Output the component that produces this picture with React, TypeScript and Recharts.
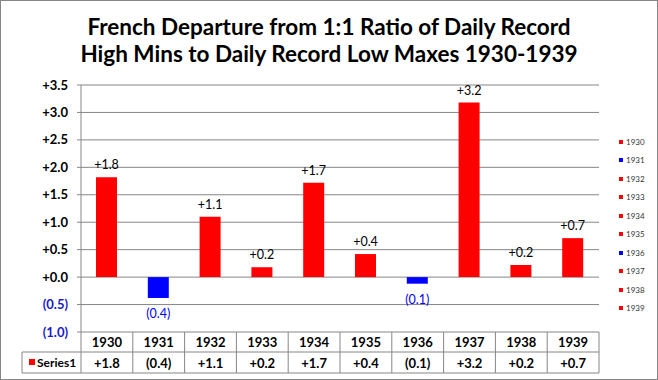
import { BarChart, Bar, XAxis, YAxis, CartesianGrid, Cell, LabelList } from "recharts";

const YEARS = ["1930", "1931", "1932", "1933", "1934", "1935", "1936", "1937", "1938", "1939"];
const VALUES = [1.82, -0.38, 1.1, 0.18, 1.72, 0.42, -0.12, 3.18, 0.22, 0.71];
const Y_TICKS = [-1, -0.5, 0, 0.5, 1, 1.5, 2, 2.5, 3, 3.5];
const SERIES_NAME = "Series1";

const RED = "#ff0000";
const BLUE = "#0000ff";
const LABEL_BLUE = "#1a1acc";
const GRID = "#868686";
const FONT = "Lato, 'Open Sans', sans-serif";

// layout
const W = 658;
const H = 380;
const PLOT_LEFT = 81;
const PLOT_RIGHT = 599;
const PLOT_TOP = 85;
const PLOT_BOTTOM = 332;
const ROW_MID = 352;
const TABLE_BOTTOM = 373;
const CELL = (PLOT_RIGHT - PLOT_LEFT) / YEARS.length;

const data = YEARS.map((year, i) => ({ year, value: VALUES[i] }));

const fmt = (v: number): string =>
    v < 0 ? `(${Math.abs(v).toFixed(1)})` : `+${v.toFixed(1)}`;

const barColor = (v: number) => (v < 0 ? BLUE : RED);

const YTick = (props: any) => {
    const { x, y, payload } = props;
    const v = payload.value as number;
    return (
        <text
            x={x}
            y={y}
            dy={4.5}
            textAnchor="end"
            fontFamily={FONT}
            fontWeight={700}
            fontSize={13}
            fill={v < 0 ? LABEL_BLUE : "#000"}
        >
            {fmt(v)}
        </text>
    );
};

const TableTick = (props: any) => {
    const { x, payload } = props;
    const i = payload.index as number;
    const left = x - CELL / 2;
    const right = x + CELL / 2;
    return (
        <g>
            {i === 0 && (
                <g>
                    <line x1={left} x2={left} y1={PLOT_BOTTOM} y2={TABLE_BOTTOM} stroke={GRID} />
                    <line x1={22} x2={left} y1={ROW_MID} y2={ROW_MID} stroke={GRID} />
                    <line x1={22} x2={left} y1={TABLE_BOTTOM} y2={TABLE_BOTTOM} stroke={GRID} />
                    <line x1={22} x2={22} y1={ROW_MID} y2={TABLE_BOTTOM} stroke={GRID} />
                    <rect x={29} y={359} width={6} height={6} fill={RED} />
                    <text x={37} y={367} fontFamily={FONT} fontWeight={700} fontSize={12} fill="#000">
                        {SERIES_NAME}
                    </text>
                </g>
            )}
            <line x1={right} x2={right} y1={PLOT_BOTTOM} y2={TABLE_BOTTOM} stroke={GRID} />
            <line x1={left} x2={right} y1={ROW_MID} y2={ROW_MID} stroke={GRID} />
            <line x1={left} x2={right} y1={TABLE_BOTTOM} y2={TABLE_BOTTOM} stroke={GRID} />
            <text x={x} y={346.5} textAnchor="middle" fontFamily={FONT} fontWeight={700} fontSize={13} fill="#000">
                {payload.value}
            </text>
            <text x={x} y={367.5} textAnchor="middle" fontFamily={FONT} fontWeight={700} fontSize={13} fill="#000">
                {fmt(VALUES[i])}
            </text>
        </g>
    );
};

const BarValueLabel = (props: any) => {
    const { x, y, width, height, value } = props;
    const top = Math.min(y, y + height);
    const bottom = Math.max(y, y + height);
    const neg = value < 0;
    return (
        <text
            x={x + width / 2}
            y={neg ? bottom + 20 : top - 8}
            textAnchor="middle"
            fontFamily={FONT}
            fontSize={12.5}
            fill={neg ? BLUE : "#000"}
        >
            {fmt(value)}
        </text>
    );
};

export default function App() {
    return (
        <div style={{ position: "absolute", left: 0, top: 0, width: W, height: H, background: "#fff" }}>
            <div
                style={{
                    position: "absolute",
                    left: 0,
                    top: 0,
                    width: W,
                    textAlign: "center",
                    fontFamily: FONT,
                    fontWeight: 700,
                    fontSize: 22.5,
                    lineHeight: "27px",
                    paddingTop: 13,
                    color: "#000",
                }}
            >
                French Departure from 1:1 Ratio of Daily Record
                <br />
                High Mins to Daily Record Low Maxes 1930-1939
            </div>
            <BarChart
                width={W}
                height={H}
                data={data}
                margin={{ top: PLOT_TOP, right: W - PLOT_RIGHT, bottom: 7, left: 0 }}
                style={{ position: "absolute", left: 0, top: 0 }}
            >
                <CartesianGrid vertical={false} stroke={GRID} strokeDasharray="" />
                <XAxis
                    dataKey="year"
                    interval={0}
                    height={H - PLOT_BOTTOM - 7}
                    tickLine={false}
                    axisLine={false}
                    tick={<TableTick />}
                />
                <YAxis
                    width={PLOT_LEFT}
                    domain={[-1, 3.5]}
                    ticks={Y_TICKS}
                    interval={0}
                    tickSize={4}
                    tickMargin={9}
                    stroke={GRID}
                    tick={<YTick />}
                />
                <Bar dataKey="value" barSize={21} isAnimationActive={false}>
                    {data.map((d) => (
                        <Cell key={d.year} fill={barColor(d.value)} />
                    ))}
                    <LabelList dataKey="value" content={<BarValueLabel />} />
                </Bar>
            </BarChart>
            <div style={{ position: "absolute", left: 619, top: 132.5, fontFamily: FONT, fontSize: 8, color: "#333" }}>
                {data.map((d) => (
                    <div key={d.year} style={{ height: 18.5, display: "flex", alignItems: "center" }}>
                        <span style={{ width: 4, height: 4, background: barColor(d.value), marginRight: 3 }} />
                        {d.year}
                    </div>
                ))}
            </div>
            <div
                style={{
                    position: "absolute",
                    left: 0,
                    top: 0,
                    width: W,
                    height: H,
                    boxSizing: "border-box",
                    border: `1px solid ${GRID}`,
                    pointerEvents: "none",
                }}
            />
        </div>
    );
}
